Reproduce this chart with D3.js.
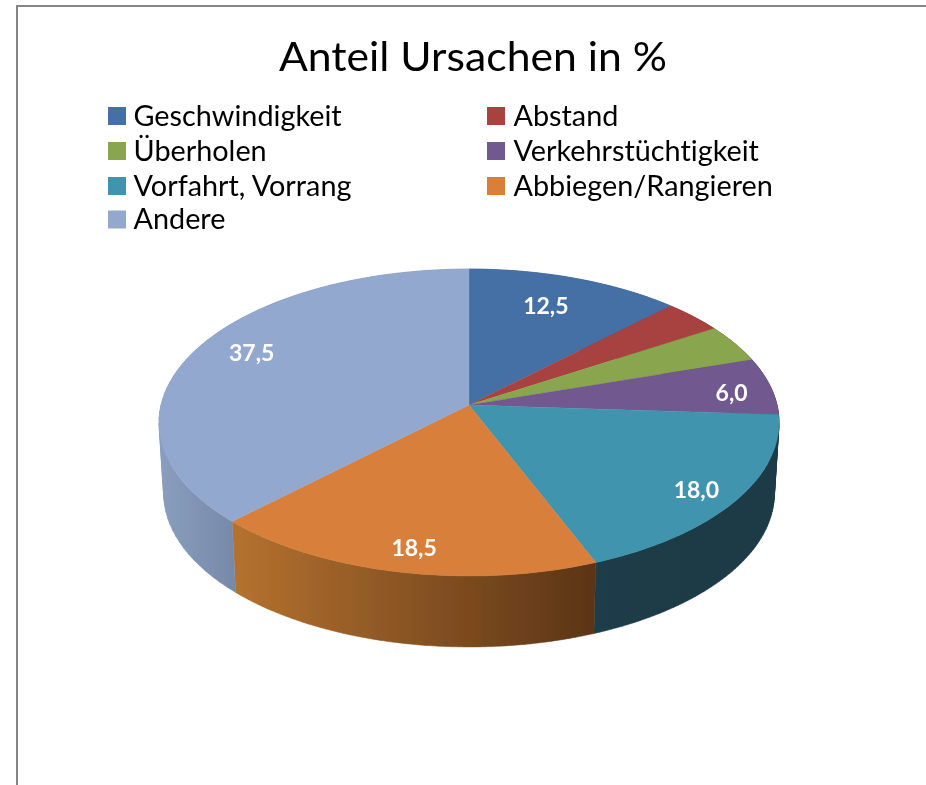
<!DOCTYPE html>
<html><head><meta charset="utf-8">
<script src="https://cdnjs.cloudflare.com/ajax/libs/d3/7.8.5/d3.min.js"></script>
<style>html,body{margin:0;padding:0;background:#fff;overflow:hidden}svg{display:block}text{font-family:Lato,"Open Sans",sans-serif;font-variant-ligatures:none}</style>
</head><body><svg id="c" width="926" height="785"></svg>
<script>
const titleText = "Anteil Ursachen in %";
const categories = ["Geschwindigkeit","Abstand","Überholen","Verkehrstüchtigkeit","Vorfahrt, Vorrang","Abbiegen/Rangieren","Andere"];
const values = [12.5,3.5,4.0,6.0,18.0,18.5,37.5];
const valueLabels = ["12,5","","","6,0","18,0","18,5","37,5"];
const topColors = ["#4570A6","#A8423F","#89A54E","#71588F","#4094AD","#D77F3B","#93A8CF"];
const wallLeft = ["#335480","#7d3230","#667a3a","#54416a","#1A3C48","#B5722F","#8A9EBE"];
const wallRight = ["#335480","#7d3230","#667a3a","#54416a","#1A3A46","#5B3416","#788AA9"];

// layout (not data)
const P = {cx:469, apexY:405, R:308, k:-0.114, A:105.3, depth:71, bottomScale:0.985};
const labelFrac = [0.70,0,0,0.87,0.86,0.80,0.79];
const labelNudge = [[0,-8],[0,0],[0,0],[0,4],[0,4],[0,13],[0,-8]];
const legendRowY = [116,151,186,219.5];
const legendColX = [108,487];

const svg = d3.select("#c");
const defs = svg.append("defs");
const f = defs.append("filter").attr("id","soft").attr("x","-5%").attr("y","-5%").attr("width","110%").attr("height","110%");
f.append("feGaussianBlur").attr("stdDeviation",0.6);
const ft = defs.append("filter").attr("id","softText").attr("x","-5%").attr("y","-10%").attr("width","110%").attr("height","120%");
ft.append("feGaussianBlur").attr("stdDeviation",0.4);

// chart border
svg.append("path").attr("d","M17,785V6H926").attr("fill","none").attr("stroke","#868686").attr("stroke-width",2);

// title
svg.append("text").attr("x",473).attr("y",71).attr("text-anchor","middle").attr("filter","url(#softText)")
  .attr("font-size",40).attr("textLength",388).attr("lengthAdjust","spacingAndGlyphs").attr("fill","#000").text(titleText);

// legend
const legendPerCol = 2;
const leg = svg.append("g").selectAll("g").data(categories).join("g")
  .attr("transform",(d,i)=>`translate(${legendColX[i%legendPerCol]},${legendRowY[Math.floor(i/legendPerCol)]})`);
leg.append("rect").attr("x",0).attr("y",-9).attr("width",18).attr("height",18).attr("fill",(d,i)=>topColors[i]);
leg.append("text").attr("x",(d,i)=>i%2?26.5:25.5).attr("y",9.5).attr("font-size",28.8).attr("fill","#000").attr("filter","url(#softText)").text(d=>d);

// perspective projection of the pie disc
function project(a, r){
  const u = r*Math.sin(a), v = -r*Math.cos(a);
  const w = 1 + P.k*v;
  return [P.cx + P.R*u/w, (P.apexY + P.A*v)/w];
}
const bottom = p => [P.cx + (p[0]-P.cx)*P.bottomScale, p[1]+P.depth];
const pie = d3.pie().sort(null)(values);
const line = d3.line();
const arcAngles = d => d3.range(0,61).map(i=>d.startAngle+(d.endAngle-d.startAngle)*i/60);

const chart = svg.append("g").attr("filter","url(#soft)");

// side-wall gradients run across the part of each slice's rim facing the viewer
pie.forEach((d,i)=>{
  const front = arcAngles(d).filter(a=>Math.cos(a)<0.05);
  const xs = (front.length>1?front:arcAngles(d)).map(a=>project(a,1)[0]);
  const g = defs.append("linearGradient").attr("id","wall"+i).attr("gradientUnits","userSpaceOnUse")
    .attr("x1",d3.min(xs)).attr("x2",d3.max(xs)).attr("y1",0).attr("y2",0);
  g.append("stop").attr("offset",0).attr("stop-color",wallLeft[i]);
  g.append("stop").attr("offset",1).attr("stop-color",wallRight[i]);
});
// each wall is a strip of small quads, all wound the same way, so the
// silhouette between the top and the bottom rim stays filled
const quad = (p,q) => {
  const pts = [p,q,bottom(q),bottom(p)];
  return line(d3.polygonArea(pts)<0 ? pts.reverse() : pts)+"Z";
};
chart.append("g").selectAll("path").data(pie).join("path")
  .attr("d",d=>{
    const t = arcAngles(d).map(a=>project(a,1));
    return d3.pairs(t).map(([p,q])=>quad(p,q)).join("");
  })
  .attr("fill",(d,i)=>`url(#wall${i})`).attr("stroke",(d,i)=>`url(#wall${i})`).attr("stroke-width",0.5);

// top faces
chart.append("g").selectAll("path").data(pie).join("path")
  .attr("d",d=>line([[P.cx,P.apexY]].concat(arcAngles(d).map(a=>project(a,1))))+"Z")
  .attr("fill",(d,i)=>topColors[i]).attr("stroke",(d,i)=>topColors[i]).attr("stroke-width",0.4);

// value labels
svg.append("g").selectAll("text").data(pie).join("text")
  .filter((d,i)=>valueLabels[i]!=="")
  .attr("text-anchor","middle").attr("font-size",23).attr("font-weight",700).attr("fill","#fff").attr("filter","url(#softText)")
  .attr("x",d=>project((d.startAngle+d.endAngle)/2,labelFrac[d.index])[0]+labelNudge[d.index][0])
  .attr("y",d=>project((d.startAngle+d.endAngle)/2,labelFrac[d.index])[1]+labelNudge[d.index][1]+8)
  .text(d=>valueLabels[d.index]);
</script></body></html>
